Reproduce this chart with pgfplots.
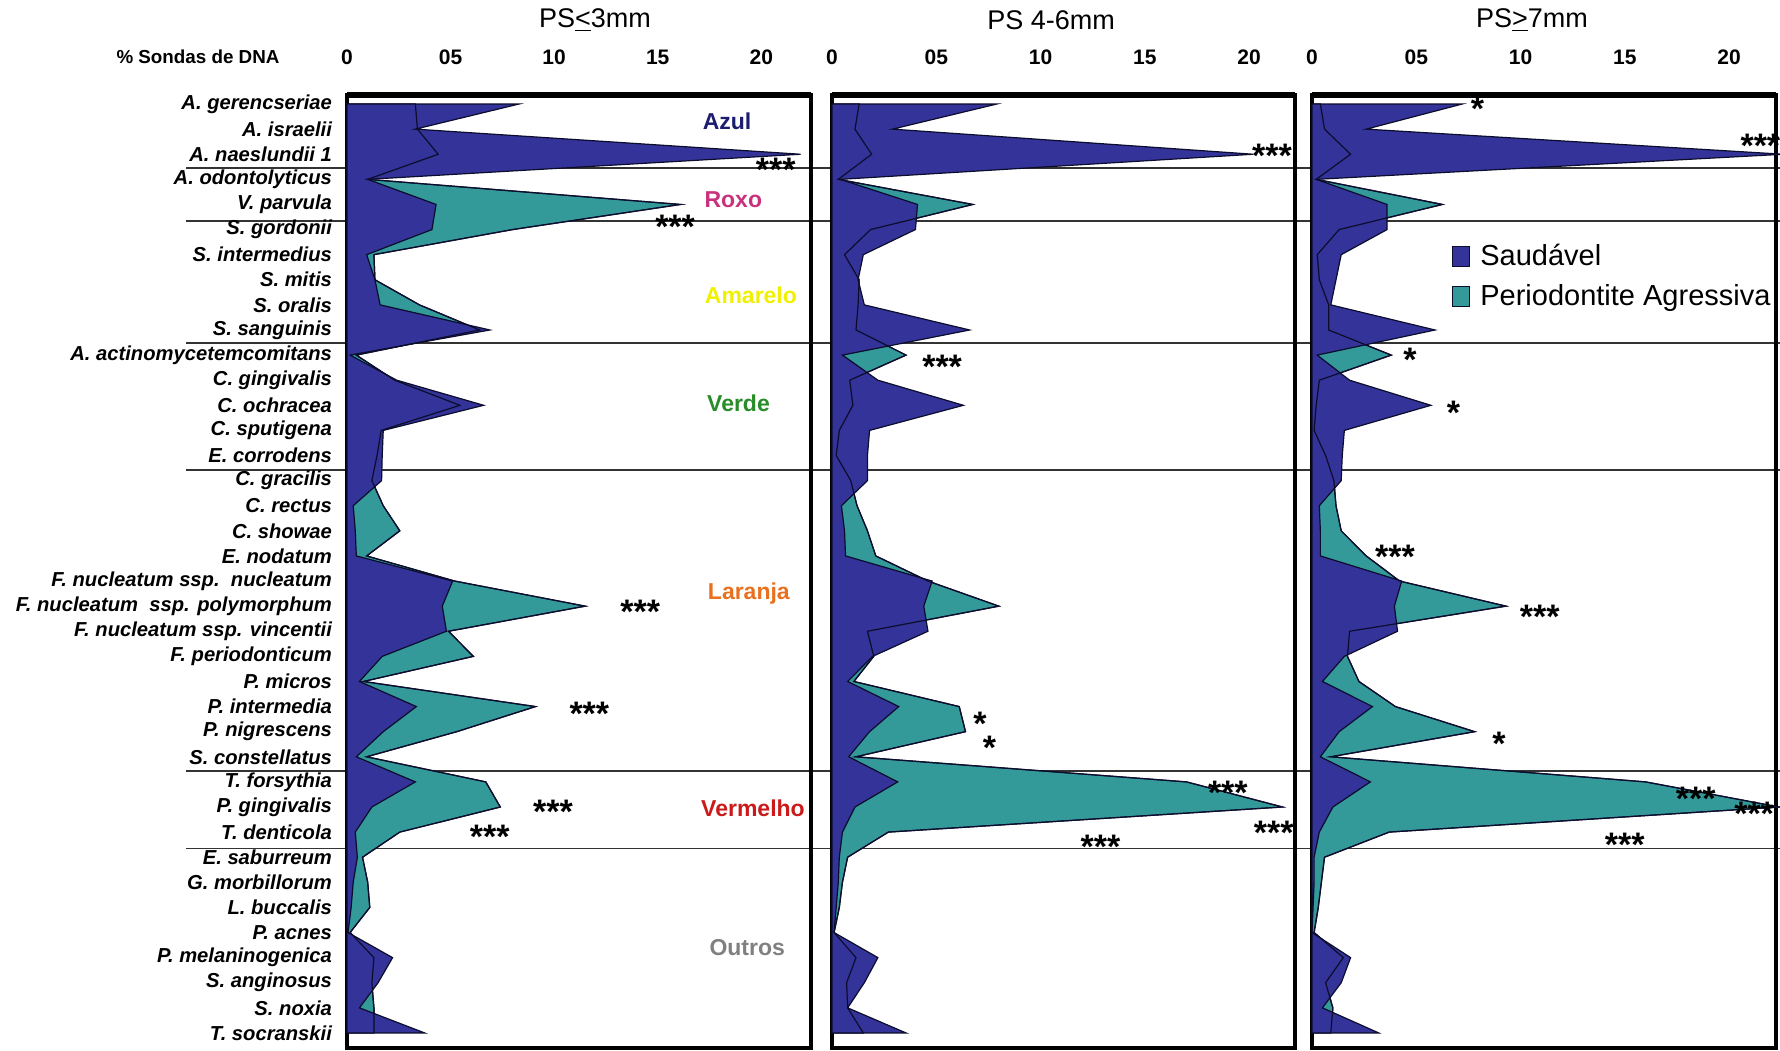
\documentclass[border=0pt]{standalone}
\usepackage{pgfplots}
\pgfplotsset{compat=1.18}
\usepackage{pgfplotstable}
\usepackage{fontspec}
\setmainfont{Liberation Sans}
\definecolor{cblue}{RGB}{51,51,153}
\definecolor{cteal}{RGB}{51,153,153}
\definecolor{cline}{RGB}{12,12,45}
\definecolor{gazul}{RGB}{28,28,112}
\definecolor{groxo}{RGB}{200,50,125}
\definecolor{gamar}{RGB}{240,240,0}
\definecolor{gverde}{RGB}{40,140,40}
\definecolor{glar}{RGB}{232,112,30}
\definecolor{gverm}{RGB}{204,26,26}
\definecolor{gout}{RGB}{128,128,128}

% columns: i = species index (top to bottom), s = Saudavel, p = Periodontite Agressiva
\pgfplotstableread{
i s p
1 8.3 3.3
2 3.3 3.4
3 21.9 4.4
4 1.0 1.0
5 4.3 16.1
6 4.1 8.0
7 0.95 1.3
8 1.35 1.35
9 1.6 3.5
10 6.9 6.4
11 0.15 0.45
12 2.4 2.3
13 6.6 5.45
14 1.75 1.65
15 1.7 1.45
16 1.67 1.2
17 0.3 1.75
18 0.4 2.55
19 0.45 0.95
20 5.1 5.2
21 4.6 11.5
22 4.8 4.9
23 1.7 6.1
24 0.6 0.8
25 3.35 9.1
26 1.75 5.3
27 0.45 0.95
28 3.3 6.7
29 1.2 7.4
30 0.4 2.55
31 0.5 0.75
32 0.3 1.0
33 0.2 1.1
34 0.05 0.15
35 2.2 1.3
36 1.5 1.2
37 0.6 1.3
38 3.75 1.3
}\tabA

\pgfplotstableread{
i s p
1 7.9 1.3
2 2.9 1.1
3 20.2 1.9
4 0.4 0.3
5 4.1 6.75
6 4.0 1.85
7 1.5 0.6
8 1.25 1.3
9 1.55 1.25
10 6.6 1.15
11 0.5 3.55
12 2.2 0.85
13 6.3 1.0
14 1.8 0.35
15 1.7 0.2
16 1.7 0.9
17 0.45 1.2
18 0.6 1.7
19 0.65 2.1
20 4.8 4.6
21 4.4 8.0
22 4.6 1.7
23 1.95 2.0
24 0.75 1.05
25 3.2 6.1
26 1.8 6.4
27 0.8 1.15
28 3.15 17.0
29 1.1 21.6
30 0.5 2.7
31 0.35 0.75
32 0.3 0.5
33 0.2 0.35
34 0.1 0.1
35 2.2 1.15
36 1.55 0.7
37 0.75 0.75
38 3.55 1.5
}\tabB

\pgfplotstableread{
i s p
1 7.2 0.4
2 2.6 0.6
3 22.6 1.85
4 0.2 0.2
5 3.6 6.25
6 3.6 1.3
7 1.4 0.25
8 1.15 0.35
9 0.9 0.8
10 5.9 0.8
11 0.25 3.8
12 1.8 0.35
13 5.7 0.2
14 1.55 0.1
15 1.45 0.65
16 1.4 1.05
17 0.35 1.15
18 0.4 1.4
19 0.4 2.6
20 4.3 4.2
21 3.95 9.3
22 4.1 1.8
23 1.55 1.7
24 0.5 2.25
25 2.9 4.0
26 1.3 7.8
27 0.4 0.9
28 2.8 16.0
29 1.0 22.4
30 0.35 3.7
31 0.1 0.6
32 0.1 0.45
33 0.05 0.3
34 0.0 0.1
35 1.85 1.5
36 1.4 0.65
37 0.5 1.0
38 3.2 0.9
}\tabC

\pgfplotsset{
  panel/.style={
    scale only axis, anchor=south west,
    height=476.5pt,
    ymin=0.64, ymax=38.6, y dir=reverse,
    xmin=0,
    axis line style={line width=1.6pt, black},
    xtick={0,5,10,15,20},
    xticklabels={0,05,10,15,20},
    xticklabel pos=upper,
    xticklabel style={font=\fontsize{10.5}{11}\selectfont\bfseries, yshift=11.5pt},
    tick style={draw=none},
    /pgf/number format/assume math mode=true,
    clip=false,
    no markers,
  },
  areaT/.style={fill=cteal, draw=cline, line width=0.6pt},
  areaB/.style={fill=cblue, draw=cline, line width=0.6pt},
}
\newcommand{\stars}[1]{\raisebox{-7.4pt}{#1}}
\tikzset{
  st/.style={font=\fontsize{17}{17}\selectfont\bfseries, inner sep=0pt, anchor=center,
    text height=5pt, text depth=0pt},
  grp/.style={font=\fontsize{11.5}{12}\selectfont\bfseries, inner sep=0pt},
}

\begin{document}
\begin{tikzpicture}
\useasboundingbox (0,0) rectangle (890pt,525pt);

% group separator lines (behind the areas)
\foreach \yy in {440.85,414.5,353.35,289.96,139.57,100.78}
  \draw[line width=0.9pt, black!80] (93pt,\yy pt) -- (890pt,\yy pt);

% ---------------- Panel 1 ----------------
\begin{axis}[panel, name=p1, at={(173.5pt,1pt)}, width=232pt, xmax=22.4,
  ytick={1,...,38},
  yticklabels={A. gerencseriae, A. israelii, A. naeslundii 1, A. odontolyticus, V. parvula,
    S. gordonii, S. intermedius, S. mitis, S. oralis, S. sanguinis,
    A. actinomycetemcomitans, C. gingivalis, C. ochracea, C. sputigena, E. corrodens,
    C. gracilis, C. rectus, C. showae, E. nodatum, F. nucleatum ssp.\ \ nucleatum,
    F. nucleatum\ \ ssp. polymorphum, F. nucleatum ssp. vincentii, F. periodonticum, P. micros, P. intermedia,
    P. nigrescens, S. constellatus, T. forsythia, P. gingivalis, T. denticola,
    E. saburreum, G. morbillorum, L. buccalis, P. acnes, P. melaninogenica,
    S. anginosus, S. noxia, T. socranskii},
  yticklabel style={font=\fontsize{10.1}{10}\selectfont\bfseries\itshape, xshift=-4pt},
]
\addplot[areaT] table[x=p,y=i]{\tabA} -- (axis cs:0,38) -- (axis cs:0,1) -- cycle;
\addplot[areaB] table[x=s,y=i]{\tabA} -- (axis cs:0,38) -- (axis cs:0,1) -- cycle;
\addplot[draw=cline, line width=0.6pt] table[x=p,y=i]{\tabA};
\node[grp, text=gazul]  at (axis cs:18.35,1.7)  {Azul};
\node[grp, text=groxo]  at (axis cs:18.65,4.82) {Roxo};
\node[grp, text=gamar]  at (axis cs:19.5,8.61)  {Amarelo};
\node[grp, text=gverde] at (axis cs:18.9,12.92) {Verde};
\node[grp, text=glar]   at (axis cs:19.4,20.49) {Laranja};
\node[grp, text=gverm]  at (axis cs:19.6,29.06) {Vermelho};
\node[grp, text=gout]   at (axis cs:19.32,34.6) {Outros};
\node[st] at (axis cs:20.7,3.3)    {\stars{***}};
\node[st] at (axis cs:15.84,5.55)  {\stars{***}};
\node[st] at (axis cs:14.16,20.89) {\stars{***}};
\node[st] at (axis cs:11.7,24.97)  {\stars{***}};
\node[st] at (axis cs:9.94,28.86)  {\stars{***}};
\node[st] at (axis cs:6.89,29.86)  {\stars{***}};
\end{axis}

% ---------------- Panel 2 ----------------
\begin{axis}[panel, name=p2, at={(416pt,1pt)}, width=231.5pt, xmax=22.2, ytick=\empty]
\addplot[areaT] table[x=p,y=i]{\tabB} -- (axis cs:0,38) -- (axis cs:0,1) -- cycle;
\addplot[areaB] table[x=s,y=i]{\tabB} -- (axis cs:0,38) -- (axis cs:0,1) -- cycle;
\addplot[draw=cline, line width=0.6pt] table[x=p,y=i]{\tabB};
\node[st] at (axis cs:21.1,2.74)   {\stars{***}};
\node[st] at (axis cs:5.28,11.13)  {\stars{***}};
\node[st] at (axis cs:7.1,25.37)   {\stars{*}};
\node[st] at (axis cs:7.55,26.3)   {\stars{*}};
\node[st] at (axis cs:18.98,28.13) {\stars{***}};
\node[st] at (axis cs:21.18,29.69) {\stars{***}};
\node[st] at (axis cs:12.87,30.26) {\stars{***}};
\end{axis}

% ---------------- Panel 3 ----------------
\begin{axis}[panel, name=p3, at={(656pt,1pt)}, width=232pt, xmax=22.25, ytick=\empty,
  legend image code/.code={\draw[#1] (0pt,-5pt) rectangle (8.5pt,5pt);},
  legend style={at={(axis cs:6.7,6.42)}, anchor=north west, draw=none, fill=none,
    font=\fontsize{14.5}{16}\selectfont, row sep=4pt, inner sep=0pt,
    /tikz/every odd column/.append style={column sep=3pt}},
  legend cell align=left,
]
\addplot[areaT, forget plot] table[x=p,y=i]{\tabC} -- (axis cs:0,38) -- (axis cs:0,1) -- cycle;
\addplot[areaB, forget plot] table[x=s,y=i]{\tabC} -- (axis cs:0,38) -- (axis cs:0,1) -- cycle;
\addplot[draw=cline, line width=0.6pt, forget plot] table[x=p,y=i]{\tabC};
\addlegendimage{fill=cblue, draw=cline, line width=0.6pt}
\addlegendentry{Saudável}
\addlegendimage{fill=cteal, draw=cline, line width=0.6pt}
\addlegendentry{Periodontite Agressiva}
\node[st] at (axis cs:7.93,0.88)   {\stars{*}};
\node[st] at (axis cs:21.5,2.34)   {\stars{***}};
\node[st] at (axis cs:4.7,10.87)   {\stars{*}};
\node[st] at (axis cs:6.78,12.99)  {\stars{*}};
\node[st] at (axis cs:3.98,18.7)   {\stars{***}};
\node[st] at (axis cs:10.92,21.09) {\stars{***}};
\node[st] at (axis cs:8.97,26.17)  {\stars{*}};
\node[st] at (axis cs:18.4,28.36)  {\stars{***}};
\node[st] at (axis cs:21.2,28.93)  {\stars{***}};
\node[st] at (axis cs:15.0,30.19)  {\stars{***}};
\end{axis}

% thick top edges of the frames
\draw[line width=2.6pt] (173.5pt,477.5pt) -- (405.5pt,477.5pt);
\draw[line width=2.6pt] (416pt,477.5pt) -- (647.5pt,477.5pt);
\draw[line width=2.6pt] (656pt,477.5pt) -- (888pt,477.5pt);

% titles and axis caption
\node[font=\fontsize{13.5}{15}\selectfont] at (297.5pt,515pt) {PS\underline{<}3mm};
\node[font=\fontsize{13.5}{15}\selectfont] at (525.5pt,515pt) {PS 4-6mm};
\node[font=\fontsize{13.5}{15}\selectfont] at (766pt,515pt) {PS\underline{>}7mm};
\node[font=\fontsize{9.4}{10}\selectfont\bfseries] at (99pt,496.5pt) {\% Sondas de DNA};
\end{tikzpicture}
\end{document}
